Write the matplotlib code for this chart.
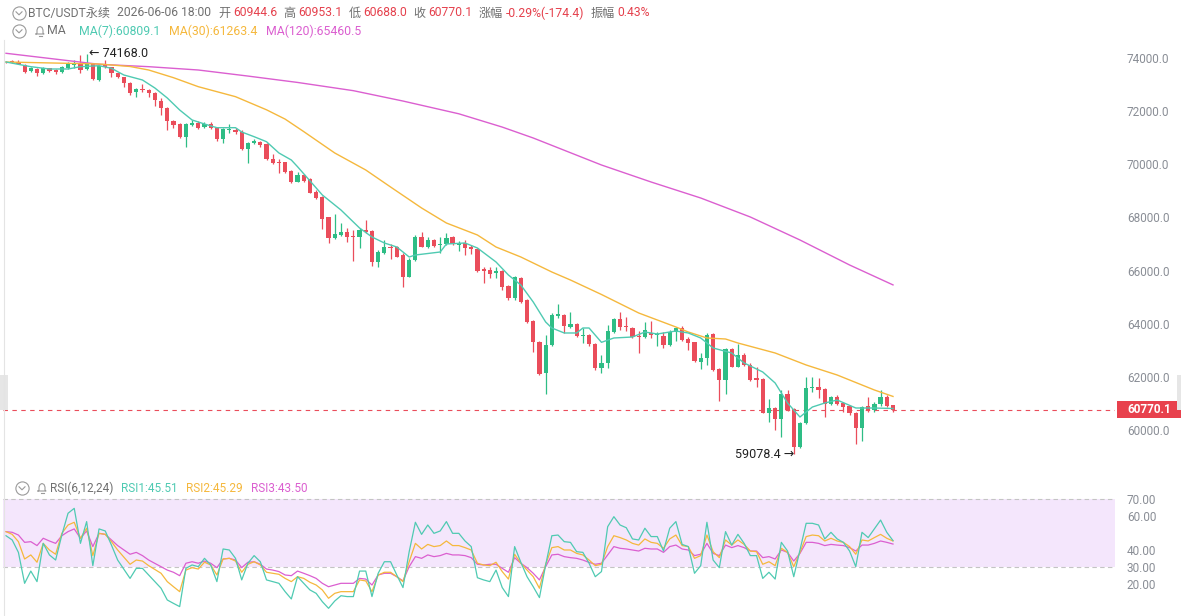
import matplotlib
matplotlib.use('Agg')
import matplotlib.pyplot as plt
from matplotlib.lines import Line2D
from matplotlib.patches import Rectangle
import numpy as np

plt.rcParams['font.family'] = ['Roboto', 'Noto Sans CJK SC', 'DejaVu Sans']

W, H = 1181, 616

UP = '#2ebd85'
DOWN = '#ea4d5b'
MA7_C = '#4fcab2'
MA30_C = '#f5b83d'
MA120_C = '#db5fd0'
LABEL = '#8a8e96'
TXT = '#707070'
VAL = '#e5414d'

# candles
opens = [73840, 73887, 73862, 73736, 73511, 73586, 73423, 73611, 73548, 73486,
         73611, 73736, 73799, 73573, 73762, 73172, 73736, 73649, 73423, 73272,
         73046, 72708, 72833, 72796, 72670, 72394, 72106, 71629, 71516, 71040,
         71479, 71541, 71416, 71504, 71354, 70939, 71278, 71291, 71228, 70576,
         70789, 70851, 70751, 70199, 70074, 70074, 69748, 69346, 69597, 69434,
         68970, 68782, 68004, 67227, 67340, 67453, 67302, 67252, 67528, 67490,
         66336, 66675, 66901, 66876, 66587, 65772, 66399, 67252, 66901, 67151,
         66951, 67001, 67252, 66976, 67026, 66876, 66800, 66060, 66023, 65897,
         65998, 65420, 64957, 65734, 64894, 64104, 63326, 62134, 63201, 64304,
         64330, 63891, 64004, 63539, 63577, 63238, 62322, 62510, 63701, 64166,
         63915, 63852, 63538, 63513, 63664, 63563, 63538, 63200, 63676, 63827,
         63413, 63300, 62573, 62698, 63614, 62297, 61883, 63037, 62385, 62823,
         62447, 61945, 61920, 60654, 60816, 60402, 61356, 60779, 59374, 60252,
         61569, 61607, 61532, 60980, 61230, 61005, 60904, 60629, 60064, 60904,
         60754, 60980, 61230, 60944.6]
highs = [73870, 73912, 73912, 73762, 73674, 73611, 73661, 73636, 73586, 73686,
         73837, 73925, 74113, 74168, 73799, 73736, 73925, 73674, 73448, 73297,
         73084, 72858, 73009, 72833, 72708, 72482, 72169, 71667, 71541, 71541,
         71667, 71629, 71604, 71604, 71379, 71354, 71504, 71354, 71291, 70826,
         70952, 70889, 70789, 70375, 70187, 70099, 69785, 69698, 69635, 69472,
         69033, 68807, 68029, 68117, 67779, 67590, 67528, 67590, 67904, 67528,
         66775, 67151, 67001, 66926, 66650, 66462, 67340, 67465, 67252, 67189,
         67277, 67427, 67302, 67126, 67151, 66963, 66838, 66148, 66148, 66148,
         66023, 65458, 65810, 65772, 64932, 64141, 63364, 63577, 64392, 64731,
         64355, 64430, 64041, 63828, 63602, 63263, 62823, 63952, 64203, 64429,
         64241, 63890, 63739, 64078, 64115, 63701, 63701, 63764, 63865, 63915,
         63488, 63325, 62886, 63639, 63639, 62322, 63074, 63074, 63237, 62886,
         62510, 62385, 61945, 61155, 60854, 61507, 61507, 60817, 60315, 62008,
         61983, 61945, 61569, 61281, 61318, 61067, 60942, 60666, 60917, 61255,
         61067, 61507, 61318, 60953.1]
lows = [73810, 73825, 73762, 73423, 73486, 73335, 73385, 73486, 73385, 73448,
        73586, 73611, 73423, 73548, 73172, 73134, 73611, 73272, 73250, 72896,
        72608, 72545, 72733, 72545, 72206, 71855, 71291, 71379, 71002, 70638,
        71441, 71328, 71354, 71328, 70889, 70789, 71165, 71128, 70538, 70036,
        70751, 70663, 70162, 69999, 69685, 69660, 69284, 69321, 69347, 68908,
        68707, 67578, 67051, 67189, 67302, 67089, 66349, 66863, 67402, 66173,
        66148, 66625, 66424, 66499, 65395, 65747, 66374, 66876, 66838, 66901,
        66650, 66963, 66963, 66750, 66587, 66612, 65960, 65521, 65709, 65709,
        65270, 64894, 64894, 64768, 64041, 62950, 62072, 61344, 63176, 64229,
        63640, 63853, 63514, 63263, 63176, 62260, 62159, 62322, 63664, 63764,
        63739, 63451, 62911, 63451, 63476, 63162, 63074, 63175, 63363, 63363,
        63012, 62573, 62297, 62447, 62234, 61105, 61343, 62359, 62359, 62410,
        61858, 61607, 60628, 60315, 60001, 59750, 60729, 59078.4, 59312, 60227,
        61444, 61193, 60478, 60942, 60942, 60691, 60566, 59475, 59600, 60691,
        60691, 60904, 60854, 60688.0]
closes = [73835, 73837, 73787, 73486, 73611, 73423, 73636, 73511, 73461, 73661,
          73787, 73799, 73548, 73762, 73197, 73711, 73674, 73423, 73272, 73046,
          72670, 72833, 72783, 72670, 72419, 72131, 71629, 71479, 71040, 71504,
          71567, 71379, 71516, 71354, 70939, 71316, 71328, 71203, 70563, 70789,
          70877, 70726, 70187, 70036, 70036, 69723, 69346, 69597, 69372, 68933,
          68744, 67954, 67239, 67377, 67453, 67277, 67252, 67528, 67465, 66336,
          66713, 66901, 66838, 66524, 65772, 66399, 67277, 66901, 67151, 66938,
          67001, 67214, 67001, 67026, 66838, 66800, 65998, 65998, 65872, 65985,
          65395, 64957, 65772, 64831, 64079, 63301, 62109, 63201, 64330, 64380,
          63928, 63991, 63552, 63577, 63226, 62348, 62511, 63739, 64178, 63890,
          63865, 63513, 63488, 63764, 63589, 63614, 63200, 63701, 63827, 63388,
          63288, 62598, 62723, 63576, 62259, 61883, 63037, 62385, 62823, 62447,
          61883, 61883, 60654, 60816, 60402, 61356, 60754, 59349, 60252, 61569,
          61632, 61507, 60980, 61230, 60980, 60879, 60629, 60064, 60879, 60729,
          60980, 61230, 60904, 60770.1]

# moving averages, sampled at candle indices
ma7_idx = [0, 4, 7, 10, 12, 15, 17, 19, 22, 24, 26, 28, 30, 32, 34, 37, 38, 40, 42, 44,
           46, 47, 51, 54, 57, 59, 61, 63, 65, 66, 70, 71, 74, 76, 79, 81, 83, 85, 87, 88,
           90, 92, 93, 94, 96, 98, 101, 103, 105, 108, 110, 112, 114, 117, 119, 122, 124,
           126, 128, 130, 132, 134, 137, 140, 143]
ma7 = [73849, 73673, 73586, 73586, 73673, 73710, 73612, 73360, 73172, 72871, 72495,
       72043, 71667, 71516, 71377, 71377, 71215, 71038, 70850, 70425, 70161, 69909,
       68844, 68280, 67602, 67264, 67038, 66887, 66511, 66586, 66699, 67000, 67038,
       66850, 66323, 65833, 65457, 64817, 64065, 63839, 63651, 63651, 63839, 63839,
       63300, 63463, 63500, 63688, 63613, 63726, 63651, 63463, 63086, 62898, 62522,
       62183, 61769, 61016, 60489, 60865, 61016, 61129, 60828, 60828, 60809.1]
ma30_idx = [0, 15, 20, 23, 27, 31, 37, 42, 45, 48, 53, 58, 62, 67, 71, 76, 79, 83, 88,
            91, 96, 102, 108, 110, 113, 116, 118, 124, 129, 134, 140, 143]
ma30 = [73849, 73774, 73680, 73548, 73259, 72920, 72544, 72050, 71700, 71230, 70425,
        69785, 69145, 68355, 67790, 67339, 66887, 66511, 65946, 65645, 65100, 64404,
        63877, 63688, 63463, 63425, 63274, 62898, 62447, 62070, 61506, 61263.4]
ma120_idx = [0, 15, 23, 31, 39, 47, 56, 64, 73, 80, 85, 96, 104, 112, 120, 128, 136, 143]
ma120 = [74177, 73763, 73673, 73548, 73320, 73080, 72770, 72380, 71900, 71400, 70989,
         69973, 69333, 68731, 68016, 67151, 66210, 65460.5]

# RSI(6,12,24), candles 19 and 24 not read
rsi_idx = [i for i in range(144) if i not in (19, 24)]
rsi1 = [48.4, 45.9, 38.6, 20.4, 27.6, 21.4, 43.9, 37.1, 34.1, 48.8, 61.6, 64.5, 43.9,
        56.7, 30.8, 52.4, 51.2, 42.9, 34.1, 23.3, 29.2, 29.2, 25.3, 17.5, 10.6, 8.6,
        6.7, 29.2, 31.2, 30.2, 35.1, 31.2, 21.4, 40.6, 40.0, 35.1, 22.4, 32.2, 36.7,
        33.1, 22.4, 21.4, 20.4, 15.5, 11.2, 24.3, 20.4, 16.5, 14.5, 9.6, 5.7, 10.0,
        13.1, 12.6, 12.6, 27.6, 27.6, 12.6, 26.3, 33.1, 33.1, 25.3, 17.9, 39.0, 56.3,
        49.2, 54.7, 49.8, 51.2, 56.7, 49.8, 49.8, 45.3, 42.0, 23.7, 22.4, 21.4, 28.2,
        17.9, 12.6, 42.0, 32.8, 24.3, 18.4, 12.0, 31.2, 48.4, 48.8, 44.9, 44.5, 39.0,
        38.6, 32.2, 24.3, 27.3, 53.7, 59.6, 54.7, 53.1, 46.5, 45.9, 52.8, 47.9, 47.9,
        39.4, 52.8, 56.7, 43.3, 42.0, 26.3, 30.8, 56.3, 34.1, 29.6, 50.8, 42.9, 49.2,
        43.9, 36.7, 36.7, 23.3, 26.9, 22.9, 44.5, 39.4, 24.3, 40.0, 55.7, 55.7, 54.7,
        46.5, 50.4, 46.5, 44.5, 39.4, 30.2, 50.4, 47.3, 52.4, 57.6, 50.4, 45.51]
rsi2 = [50.8, 49.2, 44.9, 34.7, 37.1, 32.8, 43.9, 40.0, 37.5, 49.8, 54.7, 56.3, 46.9,
        52.8, 36.7, 49.8, 49.2, 44.9, 40.0, 31.6, 34.1, 33.5, 30.8, 26.3, 21.4, 18.4,
        15.5, 28.2, 29.6, 28.8, 32.8, 31.2, 25.3, 34.7, 35.1, 33.5, 26.9, 31.6, 33.1,
        31.2, 26.9, 26.3, 25.7, 23.3, 21.4, 24.3, 23.3, 21.0, 19.4, 16.5, 11.6, 14.5,
        15.5, 15.5, 15.5, 22.4, 21.8, 15.5, 25.3, 26.9, 26.9, 24.3, 21.4, 33.1, 43.9,
        40.6, 43.3, 42.0, 42.6, 45.3, 42.6, 42.6, 41.4, 40.0, 32.2, 31.2, 30.8, 32.8,
        27.3, 22.9, 37.5, 32.2, 28.2, 24.3, 17.5, 31.6, 41.4, 42.0, 40.0, 40.0, 38.0,
        37.1, 34.1, 30.8, 31.6, 42.0, 48.4, 47.3, 45.9, 43.9, 42.9, 46.5, 44.5, 43.9,
        41.0, 46.5, 48.8, 42.6, 42.0, 35.1, 36.7, 48.8, 39.0, 35.5, 45.9, 42.9, 45.9,
        43.3, 39.4, 39.0, 31.6, 33.1, 30.8, 41.0, 38.6, 30.2, 38.6, 47.9, 48.8, 48.4,
        45.3, 46.9, 45.3, 44.5, 42.0, 37.5, 45.9, 45.3, 47.3, 49.2, 46.9, 45.29]
rsi3 = [50.8, 50.4, 48.8, 44.5, 44.9, 42.6, 46.9, 45.3, 43.9, 48.4, 50.8, 52.4, 46.9,
        51.2, 42.0, 49.8, 49.2, 45.9, 42.6, 37.5, 38.6, 36.7, 34.1, 30.2, 28.2, 26.9,
        24.9, 32.2, 33.1, 32.2, 33.5, 32.2, 29.6, 34.7, 35.1, 34.1, 29.6, 32.8, 33.1,
        31.6, 28.8, 28.2, 27.3, 25.3, 24.9, 27.6, 26.3, 24.9, 23.3, 20.4, 18.4, 19.4,
        20.4, 20.4, 20.4, 23.3, 22.9, 19.4, 25.3, 26.3, 26.3, 24.3, 21.8, 30.2, 36.1,
        35.1, 37.1, 36.1, 36.7, 38.0, 37.1, 37.1, 36.7, 35.5, 31.6, 31.2, 31.6, 31.6,
        29.2, 26.9, 35.5, 32.2, 29.6, 26.3, 22.4, 30.2, 37.1, 37.5, 36.1, 35.5, 35.1,
        34.1, 32.7, 31.6, 32.2, 37.1, 42.0, 41.0, 40.6, 40.0, 39.4, 41.0, 40.6, 40.6,
        38.6, 42.0, 42.9, 40.6, 40.0, 36.7, 37.5, 43.9, 38.0, 36.7, 42.9, 41.4, 42.6,
        41.4, 39.4, 39.4, 35.5, 36.1, 34.7, 40.0, 38.6, 33.5, 38.0, 44.5, 44.5, 43.9,
        42.6, 43.3, 42.9, 42.6, 41.4, 39.4, 42.9, 42.9, 43.9, 45.3, 44.5, 43.50]

price_ticks = [60000, 62000, 64000, 66000, 68000, 70000, 72000, 74000]
rsi_ticks = [20, 30, 40, 60, 70]
last_price = 60770.1

fig = plt.figure(figsize=(W / 100, H / 100), dpi=100)
fig.patch.set_facecolor('white')


def fx(x):
    return x / W


def fy(y):
    return 1 - y / H


XLIM = (-0.484, 178.79)

ax = fig.add_axes([fx(3), fy(470), 1112 / W, 430 / H])
rx = fig.add_axes([fx(3), fy(612), 1112 / W, 117 / H])

# ---- candles
o = np.array(opens)
c = np.array(closes)
hi = np.array(highs)
lo = np.array(lows)
x = np.arange(len(o))
col = np.where(c > o, UP, DOWN)
bottom = np.minimum(o, c)
height = np.maximum(np.abs(c - o), 25)
ax.vlines(x, lo, hi, colors=col, linewidth=0.9, zorder=2)
ax.bar(x, height, bottom=bottom, width=0.68, color=col, linewidth=0, zorder=3)

ax.plot(ma120_idx, ma120, color=MA120_C, lw=1.0, zorder=4)
ax.plot(ma30_idx, ma30, color=MA30_C, lw=1.0, zorder=4)
ax.plot(ma7_idx, ma7, color=MA7_C, lw=1.0, zorder=4)

ax.axhline(last_price, color=DOWN, lw=0.8, ls=(0, (4, 4)), zorder=1)

# high / low markers
ih = int(np.argmax(hi))
il = int(np.argmin(lo))
ax.annotate('\u2190 %.1f' % hi[ih], xy=(ih, hi[ih]), xytext=(2, 0), textcoords='offset pixels',
            ha='left', va='center', fontsize=9, color='#222222',
            family=['Roboto', 'DejaVu Sans'])
ax.annotate('%.1f \u2192' % lo[il], xy=(il, lo[il]), xytext=(0, 0), textcoords='offset pixels',
            ha='right', va='center', fontsize=9, color='#222222',
            family=['Roboto', 'DejaVu Sans'])

ax.set_xlim(*XLIM)
ax.set_ylim(58495, 74677)
ax.set_yticks(price_ticks)
ax.set_yticklabels(['%.1f' % v for v in price_ticks])

# ---- RSI
rx.axhspan(30, 70, color='#f4e6fc', lw=0, zorder=0)
for lvl in (30, 70):
    rx.axhline(lvl, color='#c4c4c4', lw=0.8, ls=(0, (4, 3)), zorder=1)
rx.plot(rsi_idx, rsi3, color=MA120_C, lw=0.9, zorder=3)
rx.plot(rsi_idx, rsi2, color=MA30_C, lw=0.9, zorder=3)
rx.plot(rsi_idx, rsi1, color=MA7_C, lw=0.9, zorder=3)
rx.set_xlim(*XLIM)
rx.set_ylim(3.53, 72.35)
rx.set_yticks(rsi_ticks)
rx.set_yticklabels(['%.2f' % v for v in rsi_ticks])

for a in (ax, rx):
    for s in a.spines.values():
        s.set_visible(False)
    a.set_xticks([])
    a.yaxis.tick_right()
    a.tick_params(axis='y', length=0, pad=8.5, labelsize=8.5, labelcolor=LABEL)
    a.set_facecolor('none')

# last price tag on the right
fig.canvas.draw()
py = ax.transData.transform((0, last_price))[1]
fig.add_artist(Rectangle((fx(1117), (py - 8.5) / H), 64 / W, 17 / H,
                         transform=fig.transFigure, facecolor='#e8414d', edgecolor='none'))
fig.text(fx(1127), py / H, '%.1f' % last_price, color='white', fontsize=8.5,
         fontweight='bold', ha='left', va='center')

# left border and side tabs
fig.add_artist(Line2D([fx(4), fx(4)], [fy(40), fy(616)], color='#e4e4e4', lw=0.8))
fig.add_artist(Rectangle((0, fy(410)), 8 / W, 35 / H, transform=fig.transFigure,
                         facecolor='#e6e6e6', edgecolor='none'))
fig.add_artist(Rectangle((fx(1177), fy(410)), 4 / W, 35 / H, transform=fig.transFigure,
                         facecolor='#e6e6e6', edgecolor='none'))


# ---- header rows
def icon_circle(cx, cy):
    fig.add_artist(Line2D([fx(cx)], [fy(cy)], marker='o', markersize=9.5, markerfacecolor='none',
                          markeredgecolor='#9a9a9a', markeredgewidth=0.8, transform=fig.transFigure))
    fig.add_artist(Line2D([fx(cx - 3), fx(cx), fx(cx + 3)], [fy(cy - 1.2), fy(cy + 1.8), fy(cy - 1.2)],
                          color='#9a9a9a', lw=0.8, transform=fig.transFigure))


def icon_bell(cx, cy):
    pts = [(-4, 3), (-3, 2), (-3, -1), (-2, -3.5), (0, -4.5), (2, -3.5), (3, -1), (3, 2), (4, 3), (-4, 3)]
    fig.add_artist(Line2D([fx(cx + a) for a, b in pts], [fy(cy + b) for a, b in pts],
                          color='#9a9a9a', lw=0.8, transform=fig.transFigure))
    fig.add_artist(Line2D([fx(cx - 1.5), fx(cx + 1.5)], [fy(cy + 5), fy(cy + 5)],
                          color='#9a9a9a', lw=0.8, transform=fig.transFigure))


renderer = fig.canvas.get_renderer()


def put_row(x0, y, pieces, size=8.5):
    xx = x0
    for txt, colr, gap in pieces:
        t = fig.text(fx(xx), fy(y), txt, color=colr, fontsize=size, ha='left', va='center')
        xx += t.get_window_extent(renderer=renderer).width + gap


icon_circle(19, 13)
put_row(28, 13, [('BTC/USDT永续', TXT, 7), ('2026-06-06 18:00', TXT, 7),
                 ('开', TXT, 3), ('60944.6', VAL, 6), ('高', TXT, 3), ('60953.1', VAL, 6),
                 ('低', TXT, 3), ('60688.0', VAL, 6), ('收', TXT, 3), ('60770.1', VAL, 6),
                 ('涨幅', TXT, 3), ('-0.29%(-174.4)', VAL, 6), ('振幅', TXT, 3), ('0.43%', VAL, 0)],
        size=8.7)

icon_circle(19, 31)
icon_bell(40, 31)
put_row(47, 31, [('MA', TXT, 13), ('MA(7):60809.1', MA7_C, 9), ('MA(30):61263.4', MA30_C, 9),
                 ('MA(120):65460.5', MA120_C, 0)], size=8.8)

icon_circle(22, 488)
icon_bell(42, 488)
put_row(50, 488, [('RSI(6,12,24)', TXT, 8), ('RSI1:45.51', MA7_C, 8), ('RSI2:45.29', MA30_C, 8),
                  ('RSI3:43.50', MA120_C, 0)])

fig.savefig('out.png', dpi=100)
